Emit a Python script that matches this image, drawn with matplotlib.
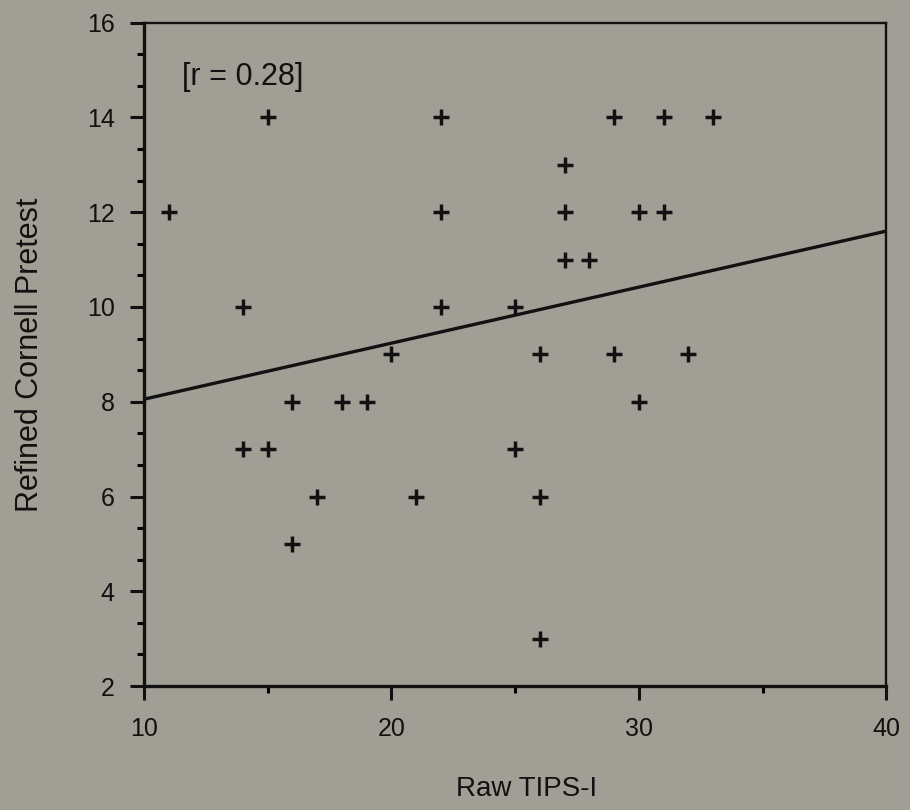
import matplotlib.pyplot as plt
import numpy as np
from matplotlib.ticker import MultipleLocator

plt.rcParams['font.family'] = ['Liberation Sans', 'DejaVu Sans']

tips = [11, 15, 14, 14, 15, 16, 16, 17, 18, 19, 20, 21, 22, 22, 22,
        25, 25, 26, 26, 26, 27, 27, 27, 28, 29, 31, 33, 30, 31, 29, 32, 30]
cornell = [12, 14, 10, 7, 7, 8, 5, 6, 8, 8, 9, 6, 14, 12, 10,
           10, 7, 9, 6, 3, 13, 12, 11, 11, 14, 14, 14, 12, 12, 9, 9, 8]

# regression line
fit_slope = 0.1183
fit_intercept = 6.87
r_label = '[r = 0.28]'

bg = '#a19f95'
ink = '#111111'
fig = plt.figure(figsize=(9.1, 8.1), dpi=100, facecolor=bg)
ax = fig.add_axes([0.158, 0.153, 0.816, 0.819], facecolor=bg)

ax.plot(tips, cornell, linestyle='none', marker='+', color=ink,
        markersize=12, markeredgewidth=2.5)

xl = np.array([10, 40])
ax.plot(xl, fit_intercept + fit_slope * xl, color=ink, lw=2.4)

ax.text(11.55, 14.68, r_label, fontsize=22, color=ink)

ax.set_xlim(10, 40)
ax.set_ylim(2, 16)
ax.set_xticks([10, 20, 30, 40])
ax.set_yticks([2, 4, 6, 8, 10, 12, 14, 16])
ax.xaxis.set_minor_locator(MultipleLocator(5))
ax.yaxis.set_minor_locator(MultipleLocator(2 / 3))
ax.tick_params(axis='both', which='major', direction='out', length=10,
               width=2.2, labelsize=18, colors=ink)
ax.tick_params(axis='both', which='minor', direction='out', length=5, width=2.2)
ax.tick_params(axis='x', which='major', pad=12)
ax.tick_params(axis='y', which='major', pad=11)

for side in ['left', 'bottom']:
    ax.spines[side].set_linewidth(2.4)
for side in ['top', 'right']:
    ax.spines[side].set_linewidth(1.7)
for s in ax.spines.values():
    s.set_color(ink)

ax.set_xlabel('Raw TIPS-I', fontsize=20, labelpad=24, color=ink)
ax.xaxis.set_label_coords(0.515, -0.135)
ax.set_ylabel('Refined Cornell Pretest', fontsize=22, labelpad=30, color=ink)

fig.savefig('out.png', dpi=100, facecolor=bg)
